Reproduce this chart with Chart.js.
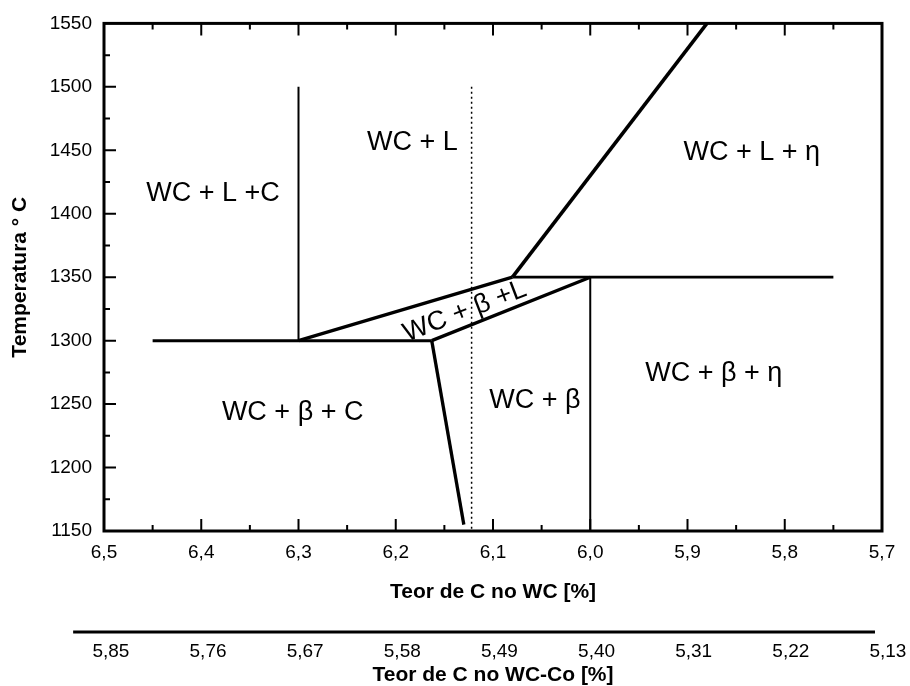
<!DOCTYPE html>
<html>
<head>
<meta charset="utf-8">
<script src="https://cdn.jsdelivr.net/npm/chart.js@4.4.0/dist/chart.umd.min.js"></script>
<style>
  html, body { margin: 0; padding: 0; background: #fff; }
  #wrap { width: 910px; height: 686px; }
</style>
</head>
<body>
<div id="wrap"><canvas id="diagram"></canvas></div>
<script>
// Axis ranges
const xMin = 5.7, xMax = 6.5, xStep = 0.1;
const yMin = 1150, yMax = 1550, yStep = 50;

// Phase boundaries: C in WC [%] vs temperature [°C]
const line63X = [6.3, 6.3];        const line63Y = [1300, 1500];
const eutecticX = [6.45, 6.163];   const eutecticY = [1300, 1300];
const triUpperX = [6.3, 6.08];     const triUpperY = [1300, 1350];
const triLowerX = [6.163, 6.0];    const triLowerY = [1300, 1350];
const peritecticX = [6.08, 5.75];  const peritecticY = [1350, 1350];
const line60X = [6.0, 6.0];        const line60Y = [1350, 1150];
const liquidusX = [6.08, 5.88];    const liquidusY = [1350, 1550];
const solvusX = [6.163, 6.13];     const solvusY = [1300, 1155];
const alloyX = [6.122, 6.122];     const alloyY = [1500, 1150];

// Region labels (data coordinates)
const regionText = ['WC + L +C', 'WC + L', 'WC + L + η', 'WC + β + C', 'WC + β', 'WC + β + η', 'WC + β +L'];
const regionX = [6.388, 6.183, 5.834, 6.306, 6.057, 5.873, 6.129];
const regionY = [1416, 1456, 1448, 1243, 1253, 1274, 1323];

// Second axis: C in WC-Co [%]
const coTicks = [5.85, 5.76, 5.67, 5.58, 5.49, 5.40, 5.31, 5.22, 5.13];
const coAxisFrom = 5.885, coAxisTo = 5.142;

const FONT = '"Liberation Sans", Arial, sans-serif';
Chart.defaults.font.family = FONT;
Chart.defaults.color = '#000';

function pts(xs, ys) {
  return xs.map((x, i) => ({ x: x, y: ys[i] }));
}

function seg(xs, ys, width, dash) {
  return {
    data: pts(xs, ys),
    showLine: true,
    borderColor: '#000',
    borderWidth: width,
    borderDash: dash || [],
    pointRadius: 0,
    pointHoverRadius: 0,
    fill: false
  };
}

const comma = (v, d) => v.toFixed(d).replace('.', ',');

// Frame, inward ticks, region labels and the WC-Co axis
const decorPlugin = {
  id: 'decor',
  afterDraw(chart) {
    const { ctx, chartArea: a, scales } = chart;
    const x = scales.x, y = scales.y, x2 = scales.x2;
    ctx.save();
    ctx.strokeStyle = '#000';
    ctx.fillStyle = '#000';

    ctx.lineWidth = 3;
    ctx.strokeRect(a.left, a.top, a.right - a.left, a.bottom - a.top);

    // inward tick marks (major on ticks, minor halfway)
    ctx.lineWidth = 2;
    const xv = x.ticks.map(t => t.value).sort((p, q) => p - q);
    const yv = y.ticks.map(t => t.value).sort((p, q) => p - q);
    const xMarks = [], yMarks = [];
    xv.forEach((v, i) => {
      xMarks.push([v, 12]);
      if (i < xv.length - 1) xMarks.push([(v + xv[i + 1]) / 2, 6]);
    });
    yv.forEach((v, i) => {
      yMarks.push([v, 12]);
      if (i < yv.length - 1) yMarks.push([(v + yv[i + 1]) / 2, 6]);
    });
    ctx.beginPath();
    xMarks.forEach(([v, len]) => {
      const px = x.getPixelForValue(v);
      if (px <= a.left + 2 || px >= a.right - 2) return;
      ctx.moveTo(px, a.bottom); ctx.lineTo(px, a.bottom - len);
      ctx.moveTo(px, a.top); ctx.lineTo(px, a.top + len);
    });
    yMarks.forEach(([v, len]) => {
      const py = y.getPixelForValue(v);
      if (py <= a.top + 2 || py >= a.bottom - 2) return;
      ctx.moveTo(a.left, py); ctx.lineTo(a.left + len, py);
    });
    ctx.stroke();

    // region labels
    ctx.font = '27px ' + FONT;
    ctx.textAlign = 'center';
    ctx.textBaseline = 'middle';
    regionText.forEach((t, i) => {
      const px = x.getPixelForValue(regionX[i]);
      const py = y.getPixelForValue(regionY[i]);
      ctx.save();
      ctx.translate(px, py);
      if (i === 6) ctx.rotate(-21 * Math.PI / 180);
      ctx.fillText(t, 0, 0);
      ctx.restore();
    });

    // secondary axis
    const lineY = a.bottom + 101;
    ctx.lineWidth = 3;
    ctx.beginPath();
    ctx.moveTo(x2.getPixelForValue(coAxisFrom), lineY);
    ctx.lineTo(x2.getPixelForValue(coAxisTo), lineY);
    ctx.stroke();
    ctx.font = '19px ' + FONT;
    coTicks.forEach(v => {
      ctx.fillText(comma(v, 2), x2.getPixelForValue(v), lineY + 20);
    });
    ctx.font = 'bold 21px ' + FONT;
    ctx.fillText('Teor de C no WC-Co [%]', (a.left + a.right) / 2, lineY + 43);
    ctx.restore();
  }
};

new Chart(document.getElementById('diagram'), {
  type: 'scatter',
  data: {
    datasets: [
      seg(line63X, line63Y, 2),
      seg(eutecticX, eutecticY, 3),
      seg(triUpperX, triUpperY, 3.3),
      seg(triLowerX, triLowerY, 3.3),
      seg(peritecticX, peritecticY, 2.8),
      seg(line60X, line60Y, 2),
      seg(liquidusX, liquidusY, 3.6),
      seg(solvusX, solvusY, 3.3),
      seg(alloyX, alloyY, 1.5, [2, 3])
    ]
  },
  options: {
    responsive: true,
    maintainAspectRatio: false,
    animation: false,
    layout: { padding: { top: 22, right: 28, bottom: 80, left: 0 } },
    plugins: {
      legend: { display: false },
      tooltip: { enabled: false }
    },
    scales: {
      x: {
        type: 'linear',
        min: xMin,
        max: xMax,
        reverse: true,
        afterFit: s => { s.height = 75; },
        grid: { display: false, drawTicks: false, tickLength: 0 },
        border: { display: false },
        ticks: {
          stepSize: xStep,
          autoSkip: false,
          maxRotation: 0,
          padding: 10,
          color: '#000',
          font: { size: 19 },
          callback: v => comma(v, 1)
        },
        title: {
          display: true,
          text: 'Teor de C no WC [%]',
          color: '#000',
          font: { size: 21, weight: 'bold' },
          padding: { top: 0, bottom: 1 }
        }
      },
      x2: {
        type: 'linear',
        display: false,
        reverse: true,
        min: 5.1355,
        max: 5.8564
      },
      y: {
        type: 'linear',
        min: yMin,
        max: yMax,
        afterFit: s => { s.width = 104; },
        grid: { display: false, drawTicks: false, tickLength: 0 },
        border: { display: false },
        ticks: {
          stepSize: yStep,
          padding: 12,
          color: '#000',
          font: { size: 19 },
          callback: v => String(v)
        },
        title: {
          display: true,
          text: 'Temperatura ° C',
          color: '#000',
          font: { size: 21, weight: 'bold' },
          padding: { top: 8, bottom: 0 }
        }
      }
    }
  },
  plugins: [decorPlugin]
});
</script>
</body>
</html>
